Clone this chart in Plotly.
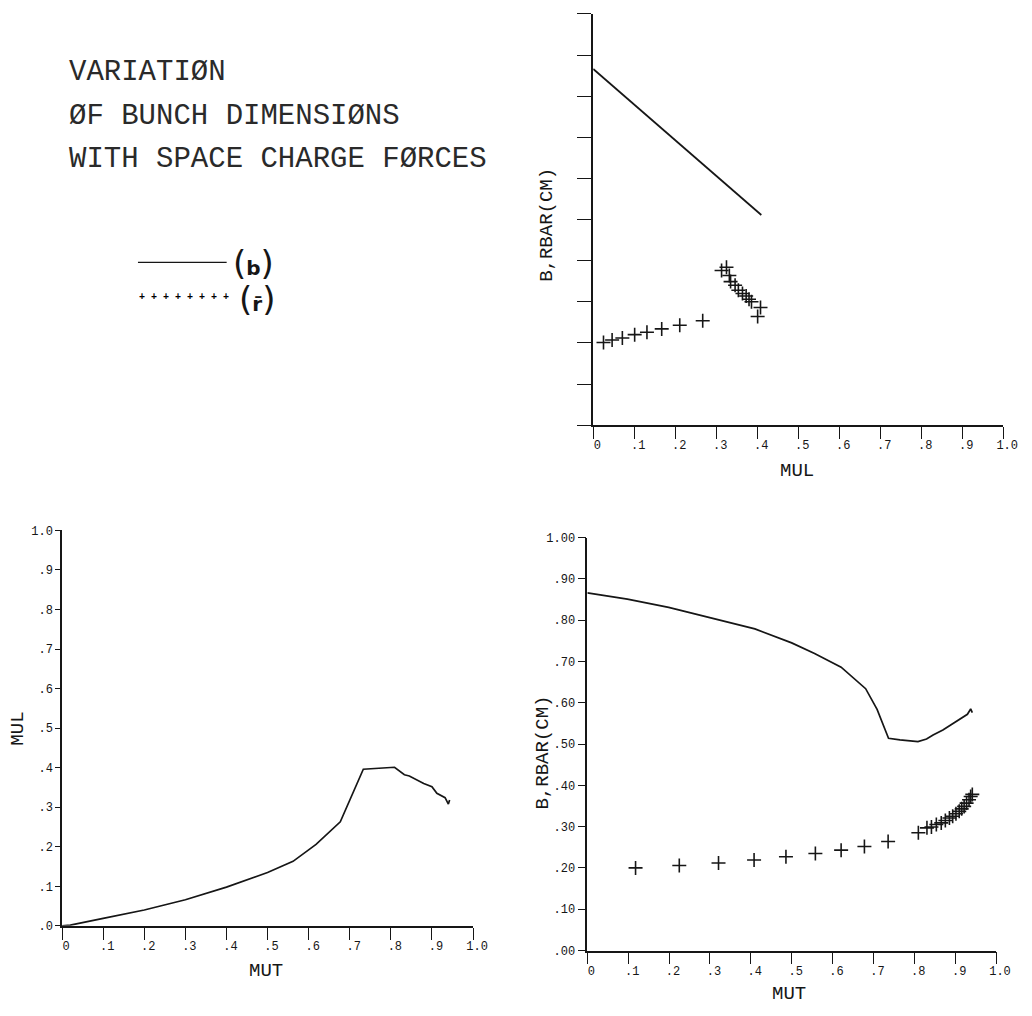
import plotly.graph_objects as go

# ---------------- data ----------------
# upper right: B and RBAR versus MUL
mul_b = [0.0, 0.10, 0.20, 0.30, 0.41]
b_mul = [0.866, 0.779, 0.692, 0.606, 0.511]
mul_r = [0.025, 0.046, 0.071, 0.101, 0.131, 0.167, 0.211, 0.267,
         0.313, 0.325, 0.332, 0.335, 0.346, 0.354, 0.364, 0.373,
         0.380, 0.386, 0.408, 0.401]
r_mul = [0.201, 0.207, 0.212, 0.220, 0.226, 0.234, 0.243, 0.254,
         0.376, 0.384, 0.364, 0.349, 0.340, 0.328, 0.320, 0.314,
         0.306, 0.300, 0.286, 0.264]

# lower left: MUL versus MUT
mut_l = [0.0, 0.02, 0.10, 0.20, 0.30, 0.40, 0.50, 0.562, 0.618, 0.677,
         0.733, 0.76, 0.809, 0.833, 0.845, 0.880, 0.900, 0.912, 0.932,
         0.940, 0.943]
mul_l = [0.0, 0.002, 0.019, 0.040, 0.066, 0.098, 0.135, 0.163, 0.206, 0.263,
         0.396, 0.398, 0.401, 0.382, 0.379, 0.360, 0.352, 0.335, 0.324,
         0.308, 0.318]

# lower right: B and RBAR versus MUT
mut_b = [0.0, 0.098, 0.199, 0.299, 0.41, 0.5, 0.556, 0.621, 0.681, 0.709,
         0.737, 0.765, 0.809, 0.830, 0.846, 0.870, 0.894, 0.914, 0.930,
         0.938, 0.942]
b_mut = [0.866, 0.851, 0.831, 0.807, 0.779, 0.745, 0.719, 0.686, 0.634, 0.584,
         0.514, 0.510, 0.506, 0.512, 0.522, 0.534, 0.550, 0.563, 0.572,
         0.585, 0.576]
mut_r = [0.118, 0.225, 0.321, 0.408, 0.486, 0.558, 0.621, 0.678, 0.736,
         0.810, 0.831, 0.842, 0.854, 0.866, 0.876, 0.886, 0.894, 0.902,
         0.910, 0.916, 0.922, 0.928, 0.934, 0.938, 0.942]
r_mut = [0.200, 0.206, 0.212, 0.219, 0.227, 0.235, 0.243, 0.252, 0.264,
         0.285, 0.297, 0.299, 0.305, 0.309, 0.315, 0.321, 0.325, 0.331,
         0.337, 0.343, 0.349, 0.357, 0.365, 0.373, 0.378]

tick_vals = [0.0, 0.1, 0.2, 0.3, 0.4, 0.5, 0.6, 0.7, 0.8, 0.9, 1.0]
x_tick_text = ["0", ".1", ".2", ".3", ".4", ".5", ".6", ".7", ".8", ".9", "1.0"]
y_tick_text_1 = [".0", ".1", ".2", ".3", ".4", ".5", ".6", ".7", ".8", ".9", "1.0"]
y_tick_text_2 = [".00", ".10", ".20", ".30", ".40", ".50", ".60", ".70", ".80", ".90", "1.00"]

title_lines = ["VARIATIØN", "ØF BUNCH DIMENSIØNS", "WITH SPACE CHARGE FØRCES"]

# ---------------- layout helpers ----------------
W, H = 1032, 1016
INK = "#161616"
MONO = "Liberation Mono, DejaVu Sans Mono, monospace"


def px_x(p):
    return p / W


def px_y(p):
    return 1 - p / H


fig = go.Figure()

line_style = dict(color=INK, width=1.7)
cross_style = dict(symbol="cross-thin", size=10, color=INK,
                   line=dict(color=INK, width=1.6))

fig.add_trace(go.Scatter(x=mul_b, y=b_mul, mode="lines", line=line_style,
                         xaxis="x", yaxis="y", showlegend=False))
fig.add_trace(go.Scatter(x=mul_r, y=r_mul, mode="markers", marker=cross_style,
                         xaxis="x", yaxis="y", showlegend=False))
fig.add_trace(go.Scatter(x=mut_l, y=mul_l, mode="lines", line=line_style,
                         xaxis="x2", yaxis="y2", showlegend=False))
fig.add_trace(go.Scatter(x=mut_b, y=b_mut, mode="lines", line=line_style,
                         xaxis="x3", yaxis="y3", showlegend=False))
fig.add_trace(go.Scatter(x=mut_r, y=r_mut, mode="markers", marker=cross_style,
                         xaxis="x3", yaxis="y3", showlegend=False))

tick_font = dict(family=MONO, size=12, color=INK)


def xaxis(dom, anchor):
    return dict(domain=dom, anchor=anchor, range=[0, 1], showgrid=False,
                zeroline=False, showline=True, linecolor=INK, linewidth=1.6,
                ticks="outside", ticklen=12, tickwidth=1.4, tickcolor=INK,
                tickvals=tick_vals, ticktext=x_tick_text, tickfont=tick_font,
                ticklabelshift=4, ticklabelstandoff=-4, fixedrange=True)


def yaxis(dom, anchor, text, ticklen, labels=True):
    return dict(domain=dom, anchor=anchor, range=[0, 1], showgrid=False,
                zeroline=False, showline=True, linecolor=INK, linewidth=1.6,
                ticks="outside", ticklen=ticklen, tickwidth=1.4, tickcolor=INK,
                tickvals=tick_vals, ticktext=text, tickfont=tick_font,
                showticklabels=labels, fixedrange=True)


fig.update_layout(
    width=W, height=H,
    margin=dict(l=0, r=0, t=0, b=0),
    paper_bgcolor="white", plot_bgcolor="white",
    xaxis=xaxis([px_x(602), px_x(1018)], "y"),
    yaxis=yaxis([px_y(425), px_y(8)], "x", y_tick_text_2, 14, labels=False),
    xaxis2=xaxis([px_x(63), px_x(480)], "y2"),
    yaxis2=yaxis([px_y(932.7), px_y(531.7)], "x2", y_tick_text_1, 5),
    xaxis3=xaxis([px_x(596), px_x(1010.7)], "y3"),
    yaxis3=yaxis([px_y(957.7), px_y(539)], "x3", y_tick_text_2, 8),
    showlegend=False,
)

annotations = []
# heading
for text, yc in zip(title_lines, [67, 112, 156]):
    annotations.append(dict(x=px_x(68), y=px_y(yc), xref="paper", yref="paper",
                            text=text, showarrow=False, xanchor="left",
                            yanchor="middle",
                            font=dict(family=MONO, size=29, color="#2a2a2a")))

# axis titles
axis_font = dict(family=MONO, size=19, color=INK)
annotations += [
    dict(x=px_x(809), y=px_y(472), text="MUL", textangle=0),
    dict(x=px_x(270), y=px_y(978), text="MUT", textangle=0),
    dict(x=px_x(801), y=px_y(1002), text="MUT", textangle=0),
    dict(x=px_x(555), y=px_y(222), text="B,RBAR(CM)", textangle=-90),
    dict(x=px_x(18), y=px_y(733), text="MUL", textangle=-90),
    dict(x=px_x(551), y=px_y(757), text="B,RBAR(CM)", textangle=-90),
]
for a in annotations[3:]:
    a.update(xref="paper", yref="paper", showarrow=False,
             xanchor="center", yanchor="middle", font=axis_font)

# key
paren = "<span style='font-size:34px'>{}</span>"
annotations.append(dict(x=px_x(257), y=px_y(261), xref="paper", yref="paper",
                        text=paren.format("(") + "<b>b</b>" + paren.format(")"),
                        showarrow=False, xanchor="center", yanchor="middle",
                        font=dict(family="DejaVu Sans", size=20, color=INK)))
annotations.append(dict(x=px_x(261), y=px_y(297), xref="paper", yref="paper",
                        text=paren.format("(") + "<b>r\u0304</b>" + paren.format(")"),
                        showarrow=False, xanchor="center", yanchor="middle",
                        font=dict(family="DejaVu Sans", size=20, color=INK)))
annotations.append(dict(x=px_x(139), y=px_y(296), xref="paper", yref="paper",
                        text="<b>+ + + + + + + +</b>", showarrow=False,
                        xanchor="left", yanchor="middle",
                        font=dict(family=MONO, size=10, color="#000000")))

fig.update_layout(annotations=annotations)
fig.add_shape(type="line", xref="paper", yref="paper",
              x0=px_x(140), x1=px_x(230), y0=px_y(260), y1=px_y(260),
              line=dict(color=INK, width=1.4))

fig.write_html("out.html")
